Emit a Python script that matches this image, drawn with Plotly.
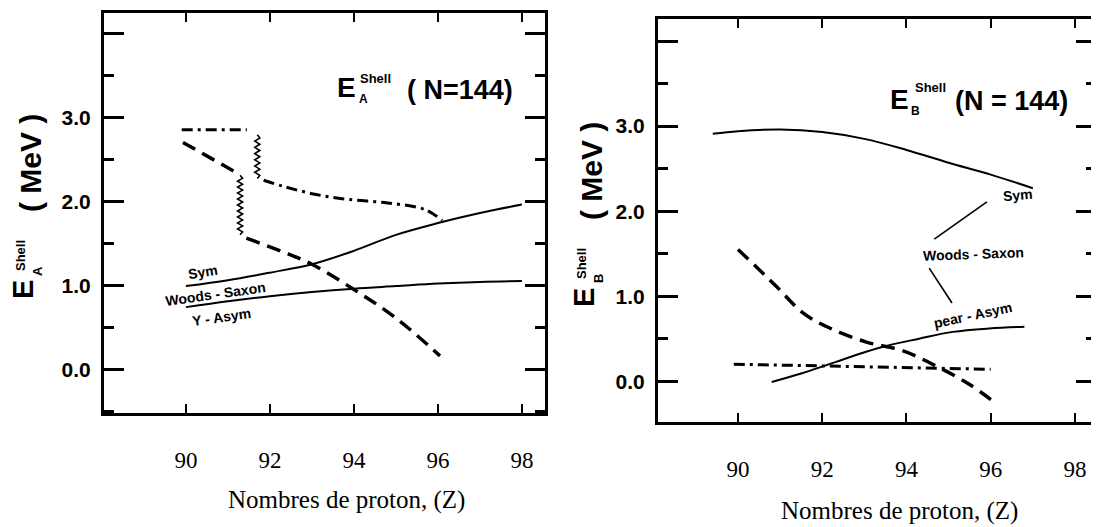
import numpy as np
import plotly.graph_objects as go

# ---------------- data ----------------
# Panel A : E_A^Shell (N=144)
A_sym_Z = [90, 91, 92, 93, 94, 95, 96, 97, 98]
A_sym_E = [0.99, 1.06, 1.15, 1.25, 1.41, 1.60, 1.74, 1.86, 1.96]
A_yasym_Z = [90, 91, 92, 93, 94, 95, 96, 97, 98]
A_yasym_E = [0.74, 0.81, 0.87, 0.92, 0.96, 0.99, 1.02, 1.04, 1.05]
A_dash1_Z = [89.93, 91.17]
A_dash1_E = [2.70, 2.35]
A_dash_jump_Z = 91.29
A_dash_jump_E = [2.31, 1.60]
A_dash2_Z = [91.44, 92.3, 93.0, 94.0, 95.0, 96.05]
A_dash2_E = [1.56, 1.40, 1.25, 0.95, 0.61, 0.16]
A_dd1_Z = [89.9, 91.45]
A_dd1_E = [2.85, 2.85]
A_dd_jump_Z = 91.7
A_dd_jump_E = [2.79, 2.27]
A_dd2_Z = [91.85, 92.3, 93.1, 93.9, 94.8, 95.7, 96.1]
A_dd2_E = [2.25, 2.18, 2.08, 2.02, 1.98, 1.90, 1.77]

# Panel B : E_B^Shell (N=144)
B_sym_Z = [89.4, 90, 91, 92, 93, 94, 95, 96, 97]
B_sym_E = [2.91, 2.94, 2.96, 2.93, 2.85, 2.72, 2.57, 2.43, 2.27]
B_pear_Z = [90.8, 91.5, 92.05, 92.7, 93.4, 94.3, 95.1, 95.96, 96.8]
B_pear_E = [-0.01, 0.09, 0.18, 0.29, 0.40, 0.50, 0.58, 0.62, 0.64]
B_dash_Z = [90.0, 90.9, 91.55, 92.2, 93.05, 93.9, 94.7, 95.5, 96.15]
B_dash_E = [1.55, 1.12, 0.80, 0.62, 0.46, 0.36, 0.18, -0.04, -0.27]
B_dd_Z = [89.9, 93.0, 96.0]
B_dd_E = [0.20, 0.17, 0.14]

x_ticks = [90, 92, 94, 96, 98]
y_major = [0, 1, 2, 3, 4]
y_major_text = ["0.0", "1.0", "2.0", "3.0", ""]
y_minor = [-0.5, 0.5, 1.5, 2.5, 3.5]

x_title = "Nombres de proton, (Z)"

# labels (data coordinates) : text, Z, E, angle
A_labels = [("Sym", 90.40, 1.16, -9), ("Woods - Saxon", 90.70, 0.90, -8),
            ("Y - Asym", 90.85, 0.62, -8)]
B_labels = [("Sym", 96.65, 2.19, -5), ("Woods - Saxon", 95.58, 1.50, -2),
            ("pear - Asym", 95.58, 0.78, -12)]
B_leaders = [((95.91, 2.11), (94.66, 1.67)), ((94.54, 1.33), (95.08, 0.92))]

# ---------------- layout geometry ----------------
# the page body has an 8px margin: the figure starts at (8, 8) of the window
OFF = 8
W, H = 1099 - OFF, 527 - OFF


def px(x):
    return (x - OFF) / W


def py(y):
    return 1 - (y - OFF) / H


SANS = "Liberation Sans, Arial, sans-serif"
SERIF = "Liberation Serif, Times New Roman, serif"
BLACK = "#000000"

fig = go.Figure()


def zigzag(z, e_range, amp, n):
    e = np.linspace(e_range[0], e_range[1], 2 * n + 1)
    zz = [z + (amp if i % 2 else -amp) * (0 if i in (0, 2 * n) else 1) for i in range(2 * n + 1)]
    return zz, list(e)


solid = dict(color=BLACK, width=2)
dashed = dict(color=BLACK, width=3.5, dash="14px,8px")
dashdot = dict(color=BLACK, width=3, dash="11px,5px,3px,5px")
wavy = dict(color=BLACK, width=1.6)

# Panel A traces
fig.add_trace(go.Scatter(x=A_sym_Z, y=A_sym_E, mode="lines", line=dict(solid, shape="spline"), xaxis="x", yaxis="y"))
fig.add_trace(go.Scatter(x=A_yasym_Z, y=A_yasym_E, mode="lines", line=dict(solid, shape="spline"), xaxis="x", yaxis="y"))
fig.add_trace(go.Scatter(x=A_dash1_Z, y=A_dash1_E, mode="lines", line=dashed, xaxis="x", yaxis="y"))
zx, zy = zigzag(A_dash_jump_Z, A_dash_jump_E, 0.06, 10)
fig.add_trace(go.Scatter(x=zx, y=zy, mode="lines", line=wavy, xaxis="x", yaxis="y"))
fig.add_trace(go.Scatter(x=A_dash2_Z, y=A_dash2_E, mode="lines", line=dict(dashed, shape="spline"), xaxis="x", yaxis="y"))
fig.add_trace(go.Scatter(x=A_dd1_Z, y=A_dd1_E, mode="lines", line=dashdot, xaxis="x", yaxis="y"))
zx, zy = zigzag(A_dd_jump_Z, A_dd_jump_E, 0.06, 7)
fig.add_trace(go.Scatter(x=zx, y=zy, mode="lines", line=wavy, xaxis="x", yaxis="y"))
fig.add_trace(go.Scatter(x=A_dd2_Z, y=A_dd2_E, mode="lines", line=dict(dashdot, shape="spline"), xaxis="x", yaxis="y"))

# Panel B traces
fig.add_trace(go.Scatter(x=B_sym_Z, y=B_sym_E, mode="lines", line=dict(solid, shape="spline"), xaxis="x2", yaxis="y2"))
fig.add_trace(go.Scatter(x=B_pear_Z, y=B_pear_E, mode="lines", line=dict(solid, shape="spline"), xaxis="x2", yaxis="y2"))
fig.add_trace(go.Scatter(x=B_dash_Z, y=B_dash_E, mode="lines", line=dict(dashed, shape="spline"), xaxis="x2", yaxis="y2"))
fig.add_trace(go.Scatter(x=B_dd_Z, y=B_dd_E, mode="lines", line=dashdot, xaxis="x2", yaxis="y2"))


def xaxis_cfg(dom, rng):
    return dict(domain=dom, range=rng, tickvals=x_ticks, ticktext=[str(v) for v in x_ticks],
                ticks="inside", ticklen=9, tickwidth=2, tickcolor=BLACK,
                showline=True, linewidth=3, linecolor=BLACK, mirror="ticks",
                showgrid=False, zeroline=False, ticklabelstandoff=24,
                tickfont=dict(family=SERIF, size=23, color=BLACK))


def yaxis_cfg(dom, rng):
    return dict(domain=dom, range=rng, tickvals=y_major, ticktext=y_major_text,
                ticks="inside", ticklen=20, tickwidth=2.5, tickcolor=BLACK,
                showline=True, linewidth=3, linecolor=BLACK, mirror="ticks",
                showgrid=False, zeroline=False, ticklabelstandoff=6,
                tickfont=dict(family=SANS, size=21, color=BLACK, weight="bold"),
                minor=dict(tickvals=y_minor, ticks="inside", ticklen=10, tickwidth=2.5,
                           tickcolor=BLACK, showgrid=False))


fig.update_layout(
    width=W, height=H, margin=dict(l=0, r=0, t=0, b=0),
    paper_bgcolor="white", plot_bgcolor="white", showlegend=False,
    xaxis=xaxis_cfg([px(104), px(545)], [88.05, 98.55]),
    yaxis=yaxis_cfg([py(413), py(13)], [-0.52, 4.24]),
    xaxis2=xaxis_cfg([px(658), px(1096)], [88.1, 98.5]),
    yaxis2=yaxis_cfg([py(422), py(19)], [-0.48, 4.26]),
)
fig.layout.yaxis2.anchor = "x2"
fig.layout.xaxis2.anchor = "y2"

ann = []


def txt(text, x, y, size, family=SANS, bold=True, angle=0, xref="paper", yref="paper", xanchor="center"):
    ann.append(dict(text=text, x=x, y=y, xref=xref, yref=yref, showarrow=False,
                    xanchor=xanchor, yanchor="middle", textangle=angle,
                    font=dict(family=family, size=size, color=BLACK, weight="bold" if bold else "normal")))


# axis titles
txt(x_title, px(346), py(500), 25, family=SERIF, bold=False)
txt(x_title, px(899), py(511), 25, family=SERIF, bold=False)

# y titles (rotated, stacked super/subscripts)
for (cx, dy, sub) in [(0, 0, "A"), (561, 8, "B")]:
    txt("( MeV )", px(30 + cx), py(163 + dy), 30, angle=-90)
    txt("E", px(23 + cx), py(290 + dy), 29, angle=-90)
    txt("Shell", px(20 + cx), py(256 + dy), 13, angle=-90)
    txt(sub, px(37 + cx), py(271 + dy), 13, angle=-90)

# panel titles
txt("E", px(346), py(88), 28)
txt("Shell", px(376), py(78), 13)
txt("A", px(363), py(99), 12)
txt("( N=144)", px(460), py(90), 27)

txt("E", px(899), py(99), 28)
txt("Shell", px(930), py(88), 13)
txt("B", px(915), py(111), 12)
txt("(N = 144)", px(1011), py(101), 27)

for (t, z, e, a) in A_labels:
    txt(t, z, e, 14, angle=a, xref="x", yref="y")
for (t, z, e, a) in B_labels:
    txt(t, z, e, 14, angle=a, xref="x2", yref="y2")

fig.update_layout(annotations=ann)

for (p0, p1) in B_leaders:
    fig.add_shape(type="line", x0=p0[0], y0=p0[1], x1=p1[0], y1=p1[1], xref="x2", yref="y2",
                  line=dict(color=BLACK, width=1.6))

fig.write_html("out.html")
